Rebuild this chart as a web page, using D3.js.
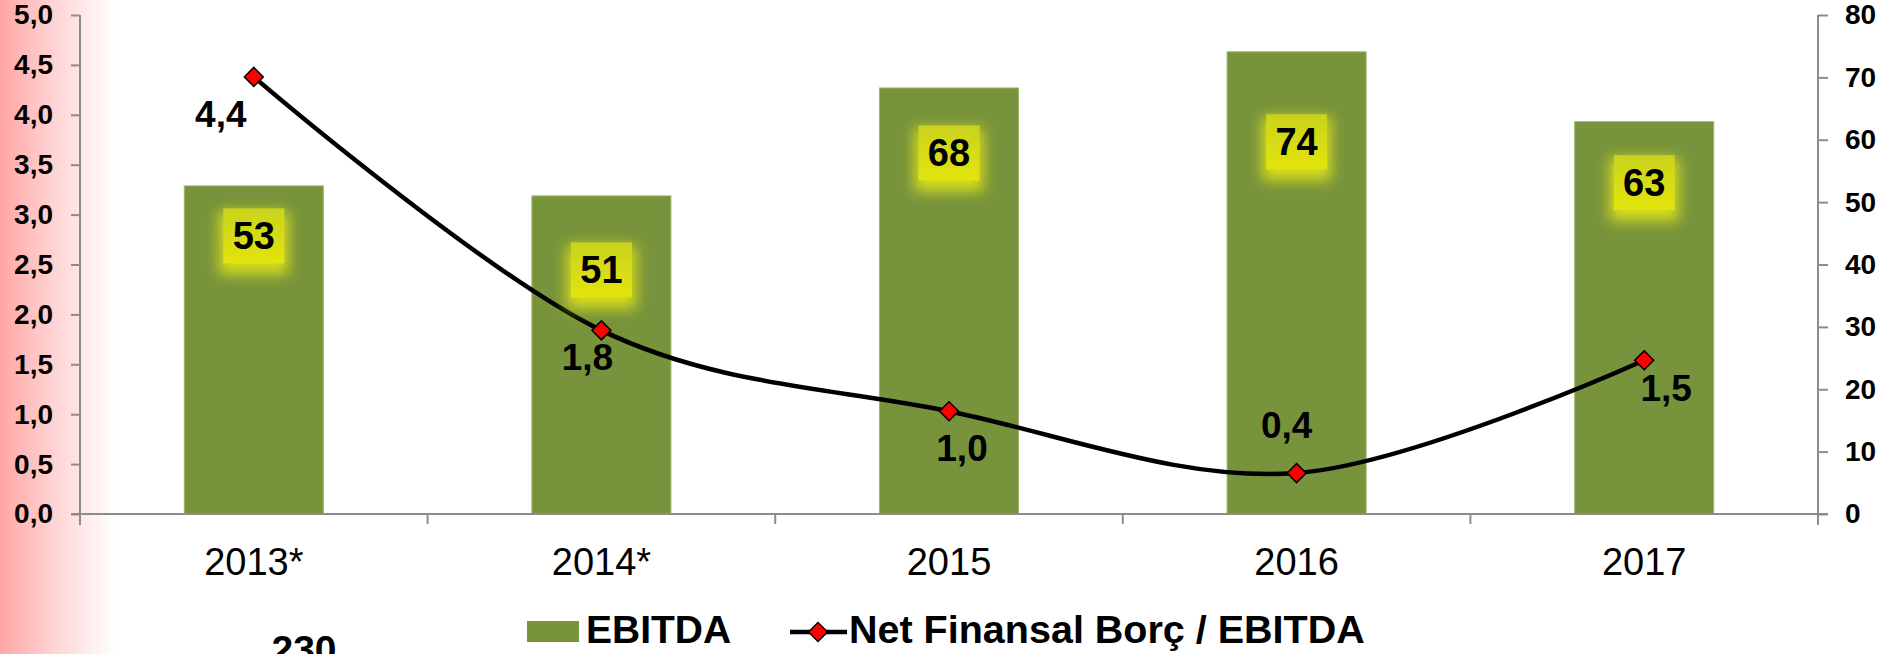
<!DOCTYPE html>
<html>
<head>
<meta charset="utf-8">
<script src="https://cdn.jsdelivr.net/npm/d3@7"></script>
<style>
    body { margin: 0; background: #fff; }
    svg { display: block; font-family: "Liberation Sans", Arial, sans-serif; }
    .axis path, .axis line { stroke: #8c8c8c; stroke-width: 2; }
    .axis text { fill: #000; font-weight: bold; font-size: 28px; }
    .x-axis text { font-weight: normal; font-size: 38px; }
</style>
</head>
<body>
<div id="chart"></div>
<script>
// chart values
const years = ["2013*", "2014*", "2015", "2016", "2017"];
const ebitda = [52.6, 51.0, 68.3, 74.1, 62.9];
const netDebtRatio = [4.38, 1.84, 1.03, 0.41, 1.54];
const leftTicks = [0, 0.5, 1, 1.5, 2, 2.5, 3, 3.5, 4, 4.5, 5];
const rightTicks = [0, 10, 20, 30, 40, 50, 60, 70, 80];
const seriesNames = ["EBITDA", "Net Finansal Borç / EBITDA"];
const footNote = "230";

// label placement (px), kept apart from the values
const barLabelDrop = [50, 74, 65, 90, 61];
const lineLabelOffset = [[-33, 50], [-14, 40], [13, 50], [-10, -35], [22, 41]];

const W = 1889, H = 654;
const margin = { top: 15, right: 71, bottom: 140, left: 80 };
const width = W - margin.left - margin.right;
const height = H - margin.top - margin.bottom;

const trFormat = d3.formatLocale({ decimal: ",", thousands: ".", grouping: [3], currency: ["", ""] });
const oneDec = trFormat.format(".1f");
const noDec = trFormat.format(".0f");

const svg = d3.select("#chart").append("svg")
    .attr("width", W)
    .attr("height", H);

const defs = svg.append("defs");

// pink fade on the left edge
const bgGrad = defs.append("linearGradient")
    .attr("id", "pinkFade")
    .attr("x1", 0).attr("x2", 1).attr("y1", 0).attr("y2", 0);
bgGrad.append("stop").attr("offset", "0%").attr("stop-color", "#ffa6a6");
bgGrad.append("stop").attr("offset", "45%").attr("stop-color", "#ffd2d2");
bgGrad.append("stop").attr("offset", "100%").attr("stop-color", "#ffffff");

svg.append("rect")
    .attr("x", 0).attr("y", 0)
    .attr("width", 115).attr("height", H)
    .attr("fill", "url(#pinkFade)");

// label box gradient + glow
const boxGrad = defs.append("linearGradient")
    .attr("id", "boxGrad")
    .attr("x1", 0).attr("x2", 0).attr("y1", 0).attr("y2", 1);
boxGrad.append("stop").attr("offset", "0%").attr("stop-color", "#c9d31d");
boxGrad.append("stop").attr("offset", "100%").attr("stop-color", "#e3e40c");

const glow = defs.append("filter")
    .attr("id", "glow")
    .attr("x", "-60%").attr("y", "-60%")
    .attr("width", "220%").attr("height", "240%");
glow.append("feFlood").attr("flood-color", "#d6dc1a").attr("result", "flood");
glow.append("feComposite").attr("in", "flood").attr("in2", "SourceAlpha").attr("operator", "in").attr("result", "shape");
glow.append("feMorphology").attr("in", "shape").attr("operator", "dilate").attr("radius", 4).attr("result", "fat");
glow.append("feOffset").attr("in", "fat").attr("dy", 7).attr("result", "moved");
glow.append("feGaussianBlur").attr("in", "moved").attr("stdDeviation", 7).attr("result", "blur");
const merge = glow.append("feMerge");
merge.append("feMergeNode").attr("in", "blur");
merge.append("feMergeNode").attr("in", "SourceGraphic");

const plot = svg.append("g")
    .attr("transform", `translate(${margin.left},${margin.top})`);

// scales
const x = d3.scaleBand()
    .domain(years)
    .range([0, width])
    .paddingInner(0.6)
    .paddingOuter(0.3);

const yLeft = d3.scaleLinear().domain([0, 5]).range([height, 0]);
const yRight = d3.scaleLinear().domain([0, 80]).range([height, 0]);

// bars
plot.selectAll(".bar")
    .data(ebitda)
    .enter().append("rect")
    .attr("class", "bar")
    .attr("x", (d, i) => x(years[i]))
    .attr("y", d => yRight(d))
    .attr("width", x.bandwidth())
    .attr("height", d => height - yRight(d))
    .attr("fill", "#77933c")
    .attr("stroke", "#9fb56a")
    .attr("stroke-width", 1);

// axes
const leftAxis = d3.axisLeft(yLeft)
    .tickValues(leftTicks)
    .tickSize(9)
    .tickPadding(18)
    .tickFormat(oneDec);

const rightAxis = d3.axisRight(yRight)
    .tickValues(rightTicks)
    .tickSize(10)
    .tickPadding(17)
    .tickFormat(noDec);

const bottomAxis = d3.axisBottom(x).tickSize(0).tickPadding(34);

plot.append("g")
    .attr("class", "axis y-axis")
    .call(leftAxis)
    .call(g => g.select(".domain").attr("d", `M0,0V${height + 11}`));

plot.append("g")
    .attr("class", "axis y-axis-right")
    .attr("transform", `translate(${width},0)`)
    .call(rightAxis)
    .call(g => g.select(".domain").attr("d", `M0,0V${height + 11}`));

const xAxisG = plot.append("g")
    .attr("class", "axis x-axis")
    .attr("transform", `translate(0,${height})`)
    .call(bottomAxis);

xAxisG.select(".domain").attr("d", `M-9,0H${width + 10}`);

// category boundary ticks
xAxisG.selectAll(".boundary")
    .data(d3.range(years.length + 1))
    .enter().append("line")
    .attr("class", "boundary")
    .attr("x1", i => x.range()[0] + i * x.step())
    .attr("x2", i => x.range()[0] + i * x.step())
    .attr("y1", 0)
    .attr("y2", 10);

// line series
const line = d3.line()
    .curve(d3.curveCardinal.tension(0))
    .x((d, i) => x(years[i]) + x.bandwidth() / 2)
    .y(d => yLeft(d));

plot.append("path")
    .datum(netDebtRatio)
    .attr("fill", "none")
    .attr("stroke", "#000")
    .attr("stroke-width", 4.5)
    .attr("d", line);

const diamond = d3.symbol().type(d3.symbolSquare).size(180);

plot.selectAll(".marker")
    .data(netDebtRatio)
    .enter().append("path")
    .attr("class", "marker")
    .attr("d", diamond)
    .attr("transform", (d, i) => `translate(${x(years[i]) + x.bandwidth() / 2},${yLeft(d)}) rotate(45)`)
    .attr("fill", "#ff0000")
    .attr("stroke", "#000")
    .attr("stroke-width", 1.5);

// line labels
plot.selectAll(".line-label")
    .data(netDebtRatio)
    .enter().append("text")
    .attr("class", "line-label")
    .attr("x", (d, i) => x(years[i]) + x.bandwidth() / 2 + lineLabelOffset[i][0])
    .attr("y", (d, i) => yLeft(d) + lineLabelOffset[i][1])
    .attr("text-anchor", "middle")
    .attr("font-size", 37)
    .attr("font-weight", "bold")
    .text(d => oneDec(d));

// bar value labels
const barLabels = plot.selectAll(".bar-label")
    .data(ebitda)
    .enter().append("g")
    .attr("class", "bar-label")
    .attr("transform", (d, i) => `translate(${x(years[i]) + x.bandwidth() / 2},${yRight(d) + barLabelDrop[i]})`);

barLabels.append("rect")
    .attr("x", -30.5)
    .attr("y", -27.5)
    .attr("width", 61)
    .attr("height", 55)
    .attr("fill", "url(#boxGrad)")
    .attr("filter", "url(#glow)");

barLabels.append("text")
    .attr("y", 13.5)
    .attr("text-anchor", "middle")
    .attr("font-size", 38)
    .attr("font-weight", "bold")
    .text(d => noDec(d));

// legend
const legend = svg.append("g").attr("class", "legend");

legend.append("rect")
    .attr("x", 527).attr("y", 621)
    .attr("width", 52).attr("height", 21)
    .attr("fill", "#77933c");

legend.append("text")
    .attr("x", 586).attr("y", 643)
    .attr("font-size", 39)
    .attr("font-weight", "bold")
    .text(seriesNames[0]);

legend.append("line")
    .attr("x1", 790).attr("x2", 847)
    .attr("y1", 632).attr("y2", 632)
    .attr("stroke", "#000")
    .attr("stroke-width", 4.5);

legend.append("path")
    .attr("d", diamond)
    .attr("transform", "translate(818,632) rotate(45)")
    .attr("fill", "#ff0000")
    .attr("stroke", "#000")
    .attr("stroke-width", 1.5);

legend.append("text")
    .attr("x", 849).attr("y", 643)
    .attr("font-size", 39.5)
    .attr("font-weight", "bold")
    .text(seriesNames[1]);

// note that the reference shows clipped at the bottom edge
svg.append("text")
    .attr("x", 304).attr("y", 663)
    .attr("text-anchor", "middle")
    .attr("font-size", 39)
    .attr("font-weight", "bold")
    .text(footNote);
</script>
</body>
</html>
